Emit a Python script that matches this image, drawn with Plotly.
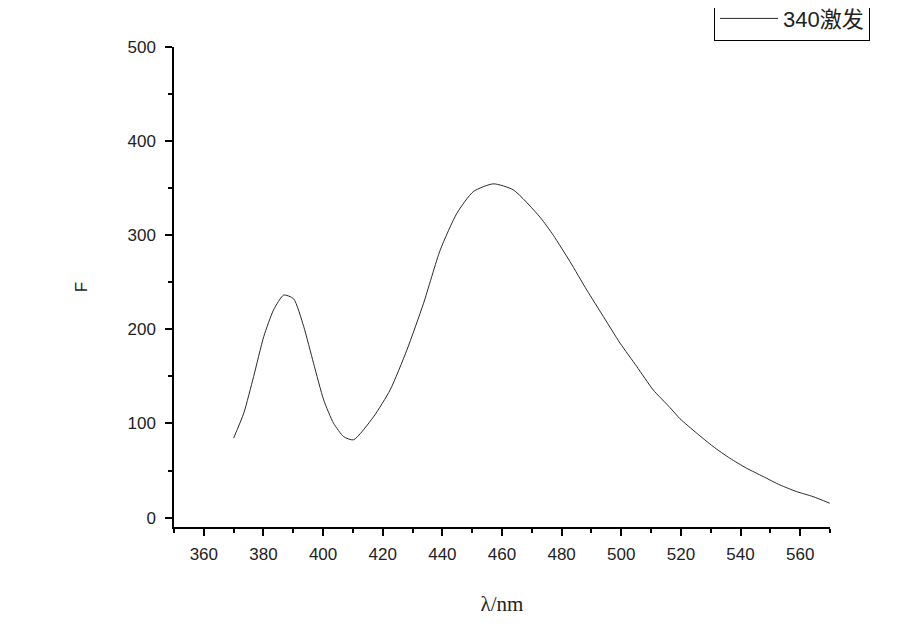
import plotly.graph_objects as go

# emission spectrum, excitation 340 nm
wavelength = [370, 373.4, 376.7, 380.1, 383.4, 386.8, 390.1, 393.5, 396.8, 400.2,
              403.5, 406.9, 410.2, 416.9, 422.5, 428.1, 433.7, 439.3, 444.9, 450.4,
              457.1, 463.8, 472.8, 477.2, 482.8, 488.4, 494.0, 499.6, 505.2, 510.7,
              516.3, 519.7, 525.3, 530.8, 536.4, 542.0, 547.6, 553.2, 558.8, 564.3, 569.9]
intensity = [84.4, 111, 149.8, 192.3, 220.7, 236.5, 232.5, 203, 164, 125,
             100.3, 86, 82.6, 107, 135.7, 178, 227.8, 284.5, 323.5, 346.4,
             354.6, 348.2, 319, 300, 272, 242, 213.6, 185.3, 160.5, 135.7,
             117, 105, 89.7, 75.5, 63.1, 52.5, 43.6, 34.7, 27.6, 22.3, 15.3]
series_name = "340激发"

x_ticks = list(range(360, 561, 20))
y_ticks = list(range(0, 501, 100))

fig = go.Figure()
fig.add_trace(go.Scatter(
    x=wavelength, y=intensity, mode="lines", name=series_name,
    line=dict(color="#2a2a2a", width=1, shape="spline", smoothing=0.6),
))

axis_font = dict(family="Liberation Sans, Arial, sans-serif", size=17, color="#222")

# page body has an 8px margin, so the margins are shifted to compensate
fig.update_layout(
    width=900, height=636,
    paper_bgcolor="white", plot_bgcolor="white",
    margin=dict(l=166, r=78, t=39, b=117, autoexpand=False),
    showlegend=True,
    legend=dict(
        x=1.061, y=1.105, xanchor="right", yanchor="top",
        bordercolor="black", borderwidth=1, bgcolor="white",
        font=dict(family="Liberation Sans, Noto Sans CJK SC, sans-serif", size=22, color="#222"),
        itemwidth=58, tracegroupgap=0,
    ),
    xaxis=dict(
        range=[350, 570], tickvals=x_ticks, showgrid=False, zeroline=False,
        showline=True, linecolor="black", linewidth=1.5,
        ticks="outside", ticklen=7, tickwidth=1.5, tickcolor="black",
        minor=dict(dtick=10, tick0=350, ticks="outside", ticklen=4, tickwidth=1.5, tickcolor="black"),
        tickfont=axis_font, ticklabelstandoff=4,
        title=dict(text="λ/nm", standoff=33,
                   font=dict(family="Liberation Serif, DejaVu Serif, serif", size=21, color="#222")),
    ),
    yaxis=dict(
        range=[-10, 500], tickvals=y_ticks, showgrid=False, zeroline=False,
        showline=True, linecolor="black", linewidth=1.5,
        ticks="outside", ticklen=7, tickwidth=1.5, tickcolor="black",
        minor=dict(dtick=50, tick0=0, ticks="outside", ticklen=4, tickwidth=1.5, tickcolor="black"),
        tickfont=axis_font, ticklabelstandoff=6,
        title=dict(text="F", standoff=36,
                   font=dict(family="Liberation Sans, Arial, sans-serif", size=17, color="#222")),
    ),
)

fig.write_html("out.html")
